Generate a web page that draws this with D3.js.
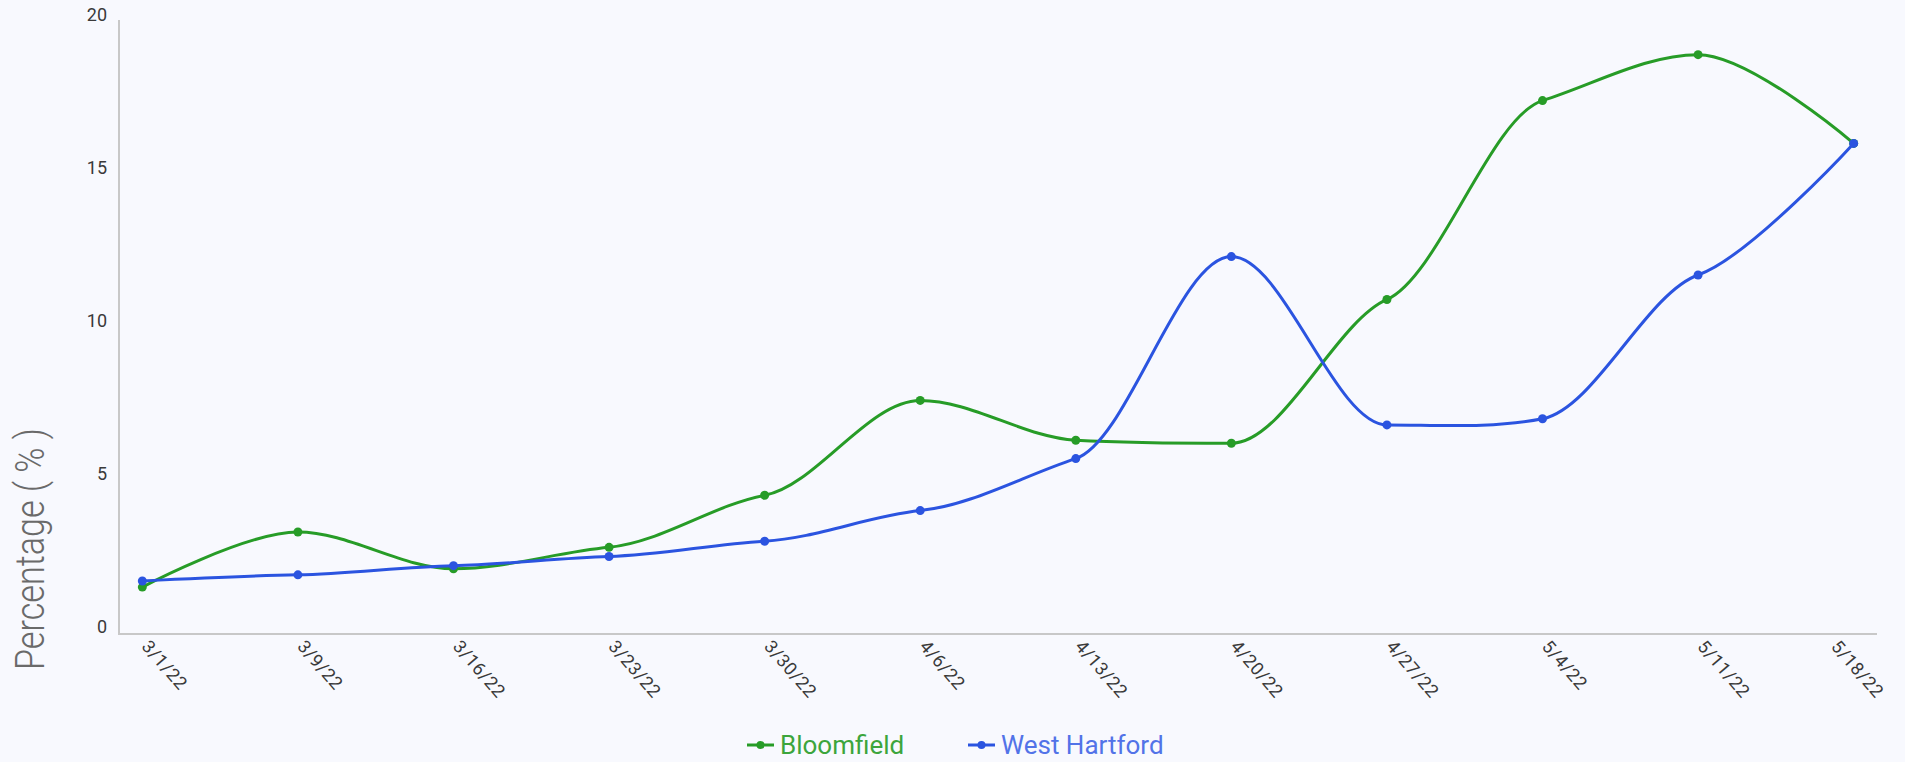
<!DOCTYPE html>
<meta charset="utf-8">
<style>
    body { margin: 0; background: #f8f9fe; }
    svg { display: block; }
    .axis path, .axis line { fill: none; stroke: #c8c8c8; stroke-width: 2; }
    .axis text { font-family: Roboto, sans-serif; fill: #3a3a3a; }
</style>

<svg width="1905" height="762"></svg>

<script src="https://cdn.jsdelivr.net/npm/d3@7"></script>

<script>
    // data
    var dates = ["3/1/22", "3/9/22", "3/16/22", "3/23/22", "3/30/22", "4/6/22",
                 "4/13/22", "4/20/22", "4/27/22", "5/4/22", "5/11/22", "5/18/22"];
    var bloomfield = [1.5, 3.3, 2.1, 2.8, 4.5, 7.6, 6.3, 6.2, 10.9, 17.4, 18.9, 16.0];
    var westHartford = [1.7, 1.9, 2.2, 2.5, 3.0, 4.0, 5.7, 12.3, 6.8, 7.0, 11.7, 16.0];
    var yTicks = [0, 5, 10, 15, 20];

    var series = [
        { name: "Bloomfield", values: bloomfield, color: "#279c27", text: "#3ca53c" },
        { name: "West Hartford", values: westHartford, color: "#2b54e0", text: "#5273e8" }
    ];

    (function () {
        var svg = d3.select("svg"),
            left = 119, right = 1877, top = 21, bottom = 633,
            tension = 0.4;

        var x = d3.scalePoint().domain(dates).range([left, right]).padding(0.15),
            y = d3.scaleLinear().domain([0, 20]).range([bottom, top]);

        // y axis: line + labels, no tick marks
        var yAxis = svg.append("g")
            .attr("class", "axis")
            .attr("transform", "translate(" + left + ",0)")
            .call(d3.axisLeft(y).tickValues(yTicks).tickSize(0).tickPadding(12));
        yAxis.select(".domain").attr("d", "M0," + (top - 1) + "V" + (bottom + 2));
        yAxis.selectAll("text").style("font-size", "18px").attr("dy", "-0.05em");

        var xAxis = svg.append("g")
            .attr("class", "axis")
            .attr("transform", "translate(0," + (bottom + 1) + ")")
            .call(d3.axisBottom(x).tickSize(0).tickPadding(0));
        xAxis.select(".domain").attr("d", "M" + left + ",0H" + right);
        xAxis.selectAll("text")
            .style("font-size", "18px")
            .style("letter-spacing", "0.5px")
            .attr("text-anchor", "start")
            .attr("dy", "0")
            .attr("y", 0)
            .attr("transform", function (d, i) {
                // the last label is pulled left so it stays inside the page
                var dx = i === dates.length - 1 ? -24 : -2;
                return "translate(" + dx + ",13) rotate(49)";
            });

        // axis title
        svg.append("text")
            .attr("transform", "translate(44,549) rotate(-90)")
            .attr("text-anchor", "middle")
            .attr("textLength", 242)
            .attr("lengthAdjust", "spacingAndGlyphs")
            .style("font-family", "Roboto, sans-serif")
            .style("font-weight", 300)
            .style("font-size", "40px")
            .style("fill", "#6a6a6a")
            .text("Percentage ( % )");

        // smooth path: flat at local extremes, damped tangents elsewhere
        function smoothPath(values) {
            var px = values.map(function (d, i) { return x(dates[i]); }),
                py = values.map(function (d) { return y(d); }),
                n = values.length,
                m = py.map(function (d, i) {
                    if (i === 0 || i === n - 1) return 0;
                    var s0 = py[i] - py[i - 1], s1 = py[i + 1] - py[i];
                    if (s0 * s1 <= 0) return 0;
                    return tension * (py[i + 1] - py[i - 1]) / 2;
                }),
                p = d3.path();
            p.moveTo(px[0], py[0]);
            for (var i = 0; i < n - 1; i++) {
                var h = px[i + 1] - px[i];
                var c1x = i === 0 ? px[0] : px[i] + h / 3,
                    c2x = i === n - 2 ? px[n - 1] : px[i + 1] - h / 3;
                p.bezierCurveTo(c1x, py[i] + m[i] / 3, c2x, py[i + 1] - m[i + 1] / 3, px[i + 1], py[i + 1]);
            }
            return p.toString();
        }

        series.forEach(function (s) {
            svg.append("path")
                .attr("d", smoothPath(s.values))
                .attr("fill", "none")
                .attr("stroke", s.color)
                .attr("stroke-width", 3);
            svg.selectAll(null)
                .data(s.values)
                .enter()
                .append("circle")
                .attr("cx", function (d, i) { return x(dates[i]); })
                .attr("cy", function (d) { return y(d); })
                .attr("r", 4.5)
                .attr("fill", s.color);
        });

        // legend
        var legendX = [747, 968];
        series.forEach(function (s, i) {
            var g = svg.append("g").attr("transform", "translate(" + legendX[i] + ",745)");
            g.append("line").attr("x1", 0).attr("x2", 27)
                .attr("stroke", s.color).attr("stroke-width", 3);
            g.append("circle").attr("cx", 13.5).attr("r", 4).attr("fill", s.color);
            g.append("text")
                .attr("x", 33)
                .attr("dy", "0.35em")
                .style("font-family", "Roboto, sans-serif")
                .style("font-size", "26px")
                .style("fill", s.text)
                .text(s.name);
        });
    })();
</script>
